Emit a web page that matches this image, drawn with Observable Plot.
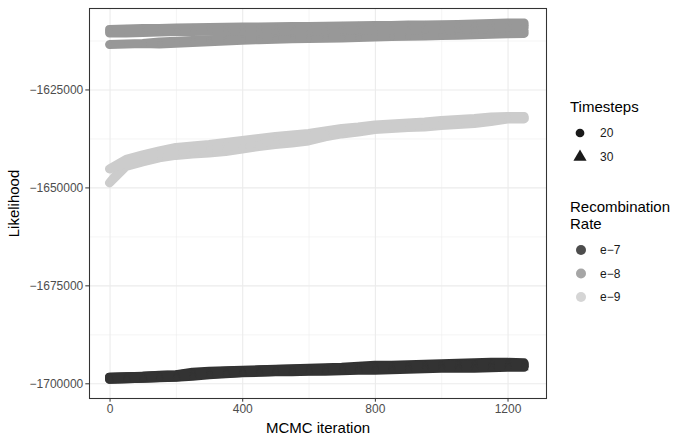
<!DOCTYPE html>
<html>
<head>
<meta charset="utf-8">
<script src="https://cdn.jsdelivr.net/npm/d3@7"></script>
<script src="https://cdn.jsdelivr.net/npm/@observablehq/plot@0.6"></script>
<style>
  html, body { margin: 0; padding: 0; background: #fff; }
  #wrap { position: relative; width: 687px; height: 444px; font-family: "Liberation Sans", Arial, Helvetica, sans-serif; }
  #legend { position: absolute; left: 560px; top: 0; width: 127px; height: 444px; }
</style>
</head>
<body>
<div id="wrap"><div id="chart"></div><div id="legend"></div></div>
<script>
// ---- data ----
const iterations = [0,50,100,150,200,250,300,350,400,450,500,550,600,650,700,750,800,850,900,950,1000,1050,1100,1150,1200,1250];

const rates = ["e-7", "e-8", "e-9"];
const rateLabels = ["e\u22127", "e\u22128", "e\u22129"];
const timesteps = ["20", "30"];
const xTicks = [0, 400, 800, 1200];
const xMinor = [200, 600, 1000];
const yTicks = [-1700000, -1675000, -1650000, -1625000];
const yMinor = [-1687500, -1662500, -1637500, -1612500];

// upper / lower edge of each trace (likelihood), per sampled iteration
const e7_20_hi = [-1698469,-1698342,-1698214,-1697959,-1697832,-1697194,-1696939,-1696811,-1696684,-1696556,-1696428,-1696301,-1696173,-1696046,-1695918,-1695663,-1695408,-1695408,-1695281,-1695153,-1695025,-1694898,-1694770,-1694643,-1694643,-1694770];
const e7_20_lo = [-1698979,-1698852,-1698724,-1698533,-1698405,-1697959,-1697640,-1697449,-1697258,-1697130,-1697003,-1696939,-1696811,-1696747,-1696620,-1696428,-1696301,-1696237,-1696110,-1695982,-1695855,-1695791,-1695727,-1695600,-1695536,-1695600];
const e7_30_hi = [-1698469,-1698342,-1698214,-1698023,-1697896,-1697449,-1697130,-1696939,-1696747,-1696620,-1696492,-1696428,-1696301,-1696237,-1696110,-1695918,-1695791,-1695727,-1695600,-1695472,-1695345,-1695281,-1695217,-1695089,-1695025,-1695089];
const e7_30_lo = [-1698979,-1698852,-1698724,-1698597,-1698469,-1698214,-1697832,-1697576,-1697321,-1697194,-1697066,-1697066,-1696939,-1696939,-1696811,-1696684,-1696684,-1696556,-1696428,-1696301,-1696173,-1696173,-1696173,-1696046,-1695918,-1695918];

const e8_20_hi = [-1613521,-1613393,-1613266,-1612888,-1612710,-1612506,-1612327,-1612123,-1611944,-1611791,-1611664,-1611562,-1611485,-1611434,-1611358,-1611230,-1611103,-1611001,-1610924,-1610848,-1610745,-1610643,-1610541,-1610414,-1610286,-1610210];
const e8_20_lo = [-1613521,-1613393,-1613266,-1613388,-1613210,-1613006,-1612827,-1612623,-1612444,-1612291,-1612164,-1612062,-1611985,-1611934,-1611858,-1611730,-1611603,-1611501,-1611424,-1611348,-1611245,-1611143,-1611041,-1610914,-1610786,-1610710];
const e8_30_hi = [-1609700,-1609570,-1609440,-1609440,-1609310,-1609260,-1609180,-1609130,-1609060,-1609060,-1609010,-1608930,-1608930,-1608880,-1608800,-1608750,-1608670,-1608670,-1608550,-1608550,-1608500,-1608420,-1608290,-1608160,-1608040,-1608040];
const e8_30_lo = [-1610590,-1610590,-1610460,-1610330,-1610210,-1610210,-1610150,-1610130,-1610080,-1610080,-1610080,-1610030,-1610030,-1609950,-1609950,-1609900,-1609820,-1609820,-1609820,-1609770,-1609770,-1609690,-1609570,-1609440,-1609310,-1609310];

const e9_20_hi = [-1648852,-1643750,-1642602,-1641582,-1640817,-1640434,-1640115,-1639669,-1639095,-1638521,-1638011,-1637628,-1637182,-1636352,-1635651,-1635204,-1634631,-1634375,-1634120,-1633929,-1633546,-1633291,-1633036,-1632590,-1632207,-1632207];
const e9_20_lo = [-1648852,-1644643,-1643495,-1642475,-1641837,-1641454,-1641199,-1640817,-1640179,-1639541,-1639031,-1638648,-1638138,-1637118,-1636352,-1635842,-1635204,-1634949,-1634694,-1634567,-1634184,-1633929,-1633674,-1633164,-1632526,-1632526];
const e9_30_hi = [-1645281,-1642857,-1641710,-1640689,-1639796,-1639414,-1639031,-1638521,-1638011,-1637500,-1636990,-1636608,-1636225,-1635587,-1634949,-1634567,-1634057,-1633801,-1633546,-1633291,-1632909,-1632654,-1632398,-1632016,-1631888,-1631888];
const e9_30_lo = [-1645281,-1643750,-1642602,-1641582,-1640817,-1640434,-1640115,-1639669,-1639095,-1638521,-1638011,-1637628,-1637182,-1636352,-1635651,-1635204,-1634631,-1634375,-1634120,-1633929,-1633546,-1633291,-1633036,-1632590,-1632207,-1632207];

const colors = ["#333333", "#989898", "#cccccc"];
const legendColors = ["#4d4d4d", "#a6a6a6", "#d5d5d5"];

// ---- table built from the arrays ----
const seriesDefs = [
  ["e-7","20",e7_20_hi,e7_20_lo], ["e-7","30",e7_30_hi,e7_30_lo],
  ["e-8","20",e8_20_hi,e8_20_lo], ["e-8","30",e8_30_hi,e8_30_lo],
  ["e-9","20",e9_20_hi,e9_20_lo], ["e-9","30",e9_30_hi,e9_30_lo]
];
const rows = [];
for (const [rate, ts, hi, lo] of seriesDefs) {
  iterations.forEach((it, i) => rows.push({it, rate, ts, key: rate + "_" + ts, hi: hi[i], lo: lo[i]}));
}

const font = "Liberation Sans, Arial, Helvetica, sans-serif";

const chart = Plot.plot({
  width: 687,
  height: 444,
  marginLeft: 89,
  marginRight: 141,
  marginTop: 8,
  marginBottom: 46,
  style: {fontFamily: font, background: "#fff", overflow: "visible"},
  x: {domain: [-62, 1316]},
  y: {domain: [-1703750, -1604210]},
  color: {domain: rates, range: colors},
  symbol: {domain: timesteps, range: ["circle", "triangle"]},
  marks: [
    Plot.ruleX(xMinor, {stroke: "#ebebeb", strokeWidth: 0.55}),
    Plot.ruleY(yMinor, {stroke: "#ebebeb", strokeWidth: 0.55}),
    Plot.ruleX(xTicks, {stroke: "#ebebeb", strokeWidth: 1.1}),
    Plot.ruleY(yTicks, {stroke: "#ebebeb", strokeWidth: 1.1}),
    Plot.areaY(rows, {x: "it", y1: "lo", y2: "hi", z: "key", fill: "rate", stroke: "rate", strokeWidth: 9, strokeLinejoin: "round", curve: "linear"}),
    Plot.dot(rows, {x: "it", y: "hi", symbol: "ts", fill: "rate", r: 3}),
    Plot.dot(rows, {x: "it", y: "lo", symbol: "ts", fill: "rate", r: 3}),
    Plot.frame({stroke: "#333333", strokeWidth: 1.07}),
    Plot.axisX({ticks: xTicks, tickSize: 3.7, tickPadding: 2.5, fontSize: 12, color: "#4d4d4d", stroke: "#333333", label: null, tickFormat: d3.format("d")}),
    Plot.axisY({ticks: yTicks, tickSize: 3.7, tickPadding: 2.5, fontSize: 12, color: "#4d4d4d", stroke: "#333333", label: null, tickFormat: d3.format("d")}),
    Plot.text(["MCMC iteration"], {frameAnchor: "bottom", dy: 30, lineAnchor: "middle", fontSize: 15, fill: "#000"}),
    Plot.text(["Likelihood"], {frameAnchor: "left", dx: -75, rotate: -90, lineAnchor: "middle", textAnchor: "middle", fontSize: 15, fill: "#000"})
  ]
});
document.getElementById("chart").appendChild(chart);

// ---- legend ----
const lg = d3.select("#legend").append("svg").attr("width", 127).attr("height", 444)
  .style("font-family", font);
const ox = -560;
lg.append("text").attr("x", 570 + ox).attr("y", 107).attr("dy", "0.35em").attr("font-size", 15).text("Timesteps");
timesteps.forEach((t, i) => {
  const cy = 133 + i * 24;
  lg.append("path").attr("transform", `translate(${580 + ox},${cy})`)
    .attr("d", d3.symbol(i === 0 ? d3.symbolCircle : d3.symbolTriangle, i === 0 ? 60 : 75)())
    .attr("fill", "#1a1a1a");
  lg.append("text").attr("x", 600 + ox).attr("y", cy).attr("dy", "0.35em").attr("font-size", 12).attr("fill", "#1a1a1a").text(t);
});
lg.append("text").attr("x", 570 + ox).attr("y", 207).attr("dy", "0.35em").attr("font-size", 15).text("Recombination");
lg.append("text").attr("x", 570 + ox).attr("y", 224).attr("dy", "0.35em").attr("font-size", 15).text("Rate");
rates.forEach((r, i) => {
  const cy = 250 + i * 23.5;
  lg.append("circle").attr("cx", 581 + ox).attr("cy", cy).attr("r", 5).attr("fill", legendColors[i]);
  lg.append("text").attr("x", 600 + ox).attr("y", cy).attr("dy", "0.35em").attr("font-size", 12).attr("fill", "#1a1a1a").text(rateLabels[i]);
});
</script>
</body>
</html>
